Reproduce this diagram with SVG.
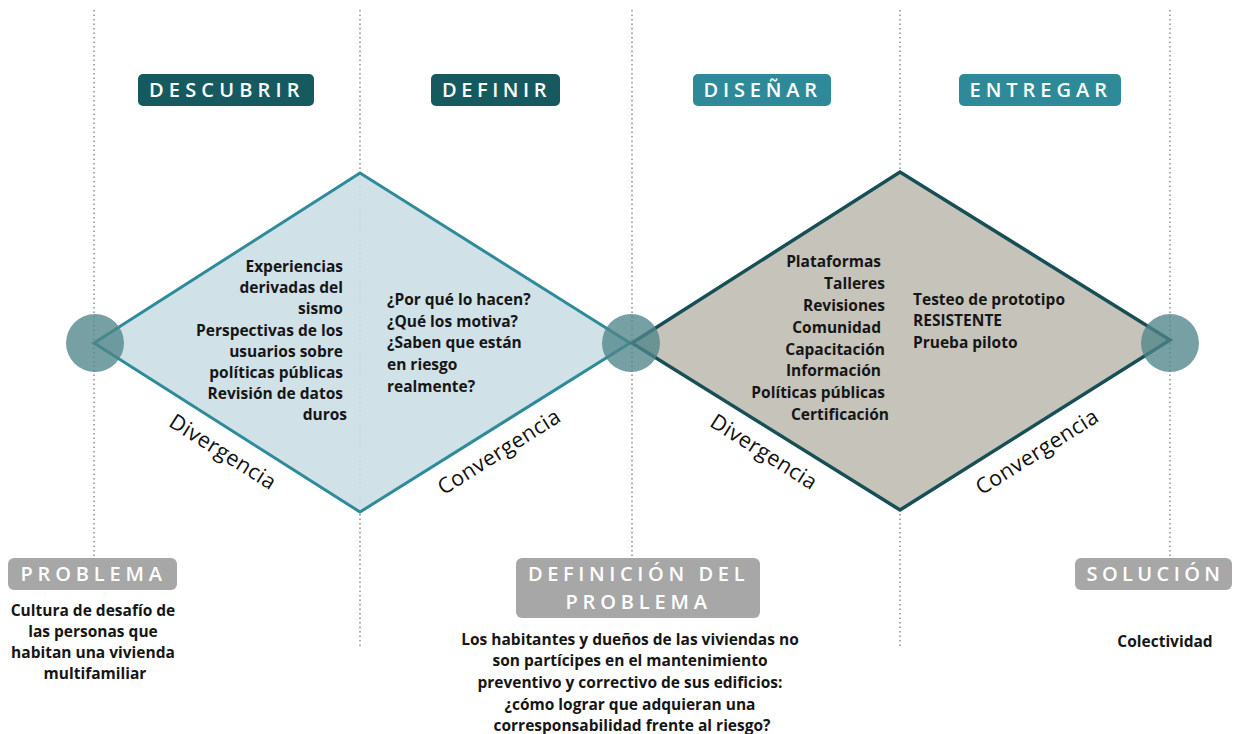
<svg xmlns="http://www.w3.org/2000/svg" width="1236" height="734" viewBox="0 0 1236 734">
<style>
.guide{stroke:#a9a9a9;stroke-width:2;stroke-dasharray:1.5 3;fill:none}
.hd{fill:#fff;font-family:"Open Sans","DejaVu Sans",sans-serif;font-size:20px;font-weight:600;letter-spacing:3.5px}
.body{fill:#161616;font-family:"Open Sans","Noto Sans",sans-serif;font-size:15.5px;font-weight:700}
.phase{fill:#111;font-family:"Open Sans","Noto Sans",sans-serif;font-size:21.5px;font-weight:400;letter-spacing:0.4px}
.dot{fill:#4f8589;fill-opacity:0.78}
</style>
<rect width="1236" height="734" fill="#fff"/>
<g id="guides">
<line class="guide" x1="94" y1="10" x2="94" y2="556"/>
<line class="guide" x1="360" y1="10" x2="360" y2="648"/>
<line class="guide" x1="632" y1="10" x2="632" y2="556"/>
<line class="guide" x1="900" y1="10" x2="900" y2="648"/>
<line class="guide" x1="1170" y1="10" x2="1170" y2="556"/>
</g>
<g id="diamond-1">
<polygon points="94,343 360,173 630,343 360,512" fill="#cddee6" fill-opacity="0.92" stroke="#2e8b9a" stroke-width="3" stroke-linejoin="miter"/>
<text class="body" text-anchor="end">
<tspan x="347" y="272">Experiencias</tspan>
<tspan x="347" y="293">derivadas del</tspan>
<tspan x="347" y="314">sismo</tspan>
<tspan x="347" y="336">Perspectivas de los</tspan>
<tspan x="347" y="357">usuarios sobre</tspan>
<tspan x="347" y="378">políticas públicas</tspan>
<tspan x="347" y="399">Revisión de datos</tspan>
<tspan x="347" y="420">duros</tspan>
</text>
<text class="body">
<tspan x="387" y="305">¿Por qué lo hacen?</tspan>
<tspan x="387" y="327">¿Qué los motiva?</tspan>
<tspan x="387" y="348">¿Saben que están</tspan>
<tspan x="387" y="370">en riesgo</tspan>
<tspan x="387" y="392">realmente?</tspan>
</text>
<text class="phase" text-anchor="middle" transform="translate(219,458) rotate(32.3)">Divergencia</text>
<text class="phase" text-anchor="middle" transform="translate(503,458) rotate(-32.3)">Convergencia</text>
</g>
<g id="diamond-2">
<polygon points="632,343 900,172 1170,340 900,510" fill="#c6c3ba" stroke="#174f57" stroke-width="3.5" stroke-linejoin="miter"/>
<text class="body" text-anchor="end">
<tspan x="885" y="267">Plataformas</tspan>
<tspan x="889" y="289">Talleres</tspan>
<tspan x="889" y="311">Revisiones</tspan>
<tspan x="885" y="333">Comunidad</tspan>
<tspan x="889" y="355">Capacitación</tspan>
<tspan x="885" y="376">Información</tspan>
<tspan x="889" y="398">Políticas públicas</tspan>
<tspan x="889" y="420">Certificación</tspan>
</text>
<text class="body">
<tspan x="913" y="305">Testeo de prototipo</tspan>
<tspan x="913" y="326">RESISTENTE</tspan>
<tspan x="913" y="348">Prueba piloto</tspan>
</text>
<text class="phase" text-anchor="middle" transform="translate(760,458) rotate(32.3)">Divergencia</text>
<text class="phase" text-anchor="middle" transform="translate(1041,458) rotate(-32.3)">Convergencia</text>
</g>
<g id="nodes-circles">
<circle class="dot" cx="95" cy="343" r="29"/>
<circle class="dot" cx="631" cy="343" r="29"/>
<circle class="dot" cx="1170" cy="343" r="29"/>
</g>
<g id="label-descubrir">
<rect x="138" y="74" width="176" height="32" rx="5" fill="#165a60"/>
<text class="hd" x="226" y="97" text-anchor="middle" textLength="154" lengthAdjust="spacing">DESCUBRIR</text>
</g>
<g id="label-definir">
<rect x="431" y="74" width="129" height="32" rx="5" fill="#165a60"/>
<text class="hd" x="496" y="97" text-anchor="middle" textLength="108" lengthAdjust="spacing">DEFINIR</text>
</g>
<g id="label-disenar">
<rect x="693" y="74" width="138" height="32" rx="5" fill="#2e8a99"/>
<text class="hd" x="762" y="97" text-anchor="middle" textLength="117" lengthAdjust="spacing">DISEÑAR</text>
</g>
<g id="label-entregar">
<rect x="959" y="74" width="162" height="32" rx="5" fill="#2e8a99"/>
<text class="hd" x="1040" y="97" text-anchor="middle" textLength="141" lengthAdjust="spacing">ENTREGAR</text>
</g>
<g id="problema">
<rect x="8" y="558" width="169" height="32" rx="6" fill="#a7a7a7"/>
<text class="hd" x="93" y="581" text-anchor="middle" textLength="145" lengthAdjust="spacing">PROBLEMA</text>
<text class="body" text-anchor="middle">
<tspan x="95" y="616">Cultura de desafío de</tspan>
<tspan x="95" y="637">las personas que</tspan>
<tspan x="95" y="658">habitan una vivienda</tspan>
<tspan x="95" y="679">multifamiliar</tspan>
</text>
</g>
<g id="definicion">
<rect x="516" y="558" width="244" height="60" rx="6" fill="#a7a7a7"/>
<text class="hd" x="638" y="581" text-anchor="middle" textLength="220" lengthAdjust="spacing">DEFINICIÓN DEL</text>
<text class="hd" x="638" y="609" text-anchor="middle" textLength="145" lengthAdjust="spacing">PROBLEMA</text>
<text class="body" text-anchor="middle">
<tspan x="632" y="645">Los habitantes y dueños de las viviendas no</tspan>
<tspan x="632" y="666">son partícipes en el mantenimiento</tspan>
<tspan x="632" y="688">preventivo y correctivo de sus edificios:</tspan>
<tspan x="632" y="710">¿cómo lograr que adquieran una</tspan>
<tspan x="632" y="731">corresponsabilidad frente al riesgo?</tspan>
</text>
</g>
<g id="solucion">
<rect x="1075" y="558" width="157" height="32" rx="6" fill="#a7a7a7"/>
<text class="hd" x="1155" y="581" text-anchor="middle" textLength="137" lengthAdjust="spacing">SOLUCIÓN</text>
<text class="body" x="1165" y="647" text-anchor="middle">Colectividad</text>
</g>
</svg>
